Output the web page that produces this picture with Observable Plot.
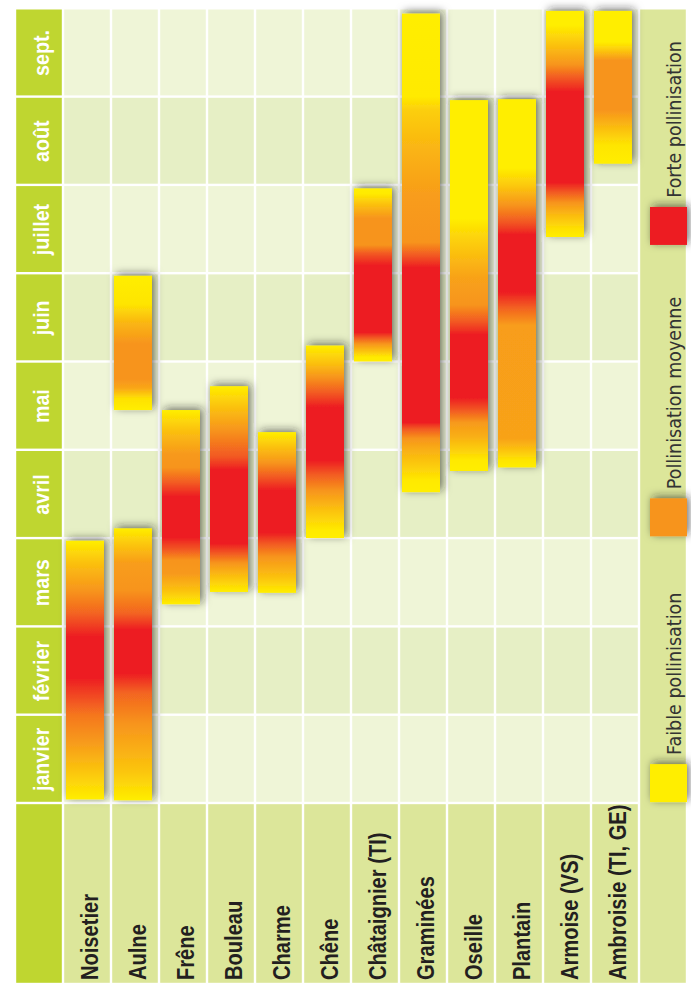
<!DOCTYPE html>
<html><head><meta charset="utf-8">
<script src="https://cdn.jsdelivr.net/npm/d3@7"></script>
<script src="https://cdn.jsdelivr.net/npm/@observablehq/plot@0.6"></script>
<style>body{margin:0;background:#fff}</style>
</head><body><div id="chart"></div>
<script>
// ---- data ----
const months = ["janvier","février","mars","avril","mai","juin","juillet","août","sept."];
const plants = ["Noisetier","Aulne","Frêne","Bouleau","Charme","Chêne","Châtaignier (TI)","Graminées","Oseille","Plantain","Armoise (VS)","Ambroisie (TI, GE)"];
const levelNames = ["Faible pollinisation","Pollinisation moyenne","Forte pollinisation"];
const levelColors = ["#ffee00","#f7941d","#ed1c24"];
// pollination periods, in months from 1 January (0) to end of September (9)
const periodPlant = ["Noisetier","Aulne","Aulne","Frêne","Bouleau","Charme","Chêne","Châtaignier (TI)","Graminées","Oseille","Plantain","Armoise (VS)","Ambroisie (TI, GE)"];
const periodStart = [0.04,0.03,4.45,2.25,2.39,2.38,3.0,5.0,3.52,3.76,3.8,6.41,7.24];
const periodEnd   = [2.97,3.11,5.97,4.45,4.72,4.2,5.18,6.96,8.94,7.96,7.97,8.97,8.97];
// intensity profile along each period: [month, level 0 = faible .. 2 = forte]
const periodProfile = [
  [[0.04,0],[0.35,0.45],[0.7,0.95],[1.0,1.25],[1.42,2],[1.88,2],[2.15,1.4],[2.4,1],[2.72,0.5],[2.97,0]],
  [[0.03,0],[0.35,0.45],[0.9,1],[1.25,1.4],[1.47,2],[1.96,2],[2.15,1.4],[2.41,1],[2.72,0.9],[2.95,0.4],[3.11,0]],
  [[4.45,0],[4.58,0.15],[4.7,0.8],[4.8,1],[5.2,1],[5.45,0.6],[5.65,0.1],[5.97,0]],
  [[2.25,0],[2.41,0.5],[2.6,0.95],[2.75,1],[2.87,1.5],[3.01,2],[3.47,2],[3.62,1.5],[3.8,1],[3.95,0.95],[4.22,0.5],[4.45,0]],
  [[2.39,0],[2.56,0.5],[2.72,1],[2.83,1.5],[2.94,2],[3.77,2],[3.92,1.5],[4.22,1],[4.48,0.5],[4.72,0]],
  [[2.38,0],[2.56,0.5],[2.79,1],[2.94,1.5],[3.06,2],[3.54,2],[3.69,1.5],[3.85,1],[4.03,0.5],[4.2,0]],
  [[3.0,0],[3.09,0.05],[3.32,0.5],[3.54,1],[3.73,1.5],[3.88,2],[4.48,2],[4.64,1.5],[4.82,1],[4.98,0.5],[5.18,0]],
  [[5.0,0],[5.05,0.05],[5.12,0.5],[5.2,1],[5.27,1.5],[5.33,2],[6.09,2],[6.22,1.5],[6.32,1],[6.62,1],[6.78,0.5],[6.9,0.05],[6.96,0]],
  [[3.52,0],[3.65,0.05],[3.8,0.35],[4.0,0.7],[4.13,1],[4.24,1.5],[4.31,2],[6.06,2],[6.2,1.5],[6.35,1],[6.9,0.9],[7.4,0.65],[7.85,0.35],[8.0,0.05],[8.94,0]],
  [[3.76,0],[3.88,0.05],[4.0,0.35],[4.15,0.7],[4.31,0.95],[4.45,1.5],[4.59,2],[5.3,2],[5.45,1.5],[5.64,1],[5.95,0.85],[6.2,0.55],[6.45,0.25],[6.62,0],[7.96,0]],
  [[3.8,0],[3.88,0.1],[4.02,0.55],[4.13,0.85],[5.41,0.9],[5.6,1.4],[5.79,2],[6.43,2],[6.58,1.5],[6.77,1],[7.0,0.4],[7.19,0],[7.97,0]],
  [[6.41,0],[6.5,0.15],[6.65,0.55],[6.8,1],[6.92,1.5],[7.03,2],[8.05,2],[8.21,1.5],[8.36,1],[8.58,0.5],[8.81,0],[8.97,0]],
  [[7.24,0],[7.45,0.1],[7.85,1],[8.41,1],[8.55,0.3],[8.62,0],[8.97,0]]
];

// ---- layout ----
const HDR = "__mois", LEG = "__legende";
const LABEL_BOTTOM = -2.05;       // bottom of the plant-name row (months units)
const LEGEND_POS = [0.01, 3.02, 6.32];
const SWATCH = 0.43;
const C_LIME = "#bfd630", C_LABEL = "#dce69a", C_LIGHT = "#eff5d7", C_DARK = "#e6efc5";
const BOLD_FONT = "'Liberation Sans',Arial,sans-serif";
const LEG_FONT = "'DejaVu Sans Condensed','Liberation Sans Narrow',sans-serif";
const NARROW = 0.875;   // horizontal condensation of the bold labels

const cells = [];
months.forEach((m, i) => {
  cells.push({col: HDR, m0: i, m1: i + 1, fill: C_LIME});
  plants.forEach(p => cells.push({col: p, m0: i, m1: i + 1, fill: i % 2 === 0 ? C_LIGHT : C_DARK}));
});
cells.push({col: HDR, m0: LABEL_BOTTOM, m1: 0, fill: C_LIME});
plants.forEach(p => cells.push({col: p, m0: LABEL_BOTTOM, m1: 0, fill: C_LABEL}));
cells.push({col: LEG, m0: LABEL_BOTTOM, m1: 9, fill: C_LABEL});

const periods = periodPlant.map((p, i) => ({i, plant: p, start: periodStart[i], end: periodEnd[i]}));

const svg = Plot.plot({
  width: 691, height: 983,
  marginTop: 0, marginRight: 0, marginBottom: 0, marginLeft: 0,
  style: {background: "white", overflow: "visible"},
  x: {type: "band", domain: [HDR, ...plants, LEG], range: [9.25, 691.75], padding: 0, axis: null},
  y: {type: "linear", domain: [LABEL_BOTTOM, 9], range: [984, 8.3], axis: null},
  color: {type: "identity"},
  marks: [
    Plot.barY(cells, {x: "col", y1: "m0", y2: "m1", fill: "fill", inset: 1.2}),
    Plot.barY(periods, {x: "plant", y1: "start", y2: "end", fill: d => `url(#grad-${d.i})`,
      insetLeft: 3, insetRight: 7, ariaDescription: "pollen-bars"}),
    Plot.text(months, {x: () => HDR, y: (d, i) => i + 0.5, text: d => d, rotate: -90,
      textAnchor: "middle", lineAnchor: "bottom", dx: 9.5, fill: "white", fontSize: 22.5,
      fontWeight: "bold", fontFamily: BOLD_FONT, ariaDescription: "month-labels"}),
    Plot.text(plants, {x: d => d, y: () => -2.0, text: d => d, rotate: -90,
      textAnchor: "start", lineAnchor: "bottom", dx: 10, fill: "#231f20", fontSize: 23,
      fontWeight: "bold", fontFamily: BOLD_FONT, ariaDescription: "plant-labels"}),
    Plot.barY(levelNames, {x: () => LEG, y1: (d, i) => LEGEND_POS[i], y2: (d, i) => LEGEND_POS[i] + SWATCH,
      fill: (d, i) => levelColors[i], insetLeft: 11, ariaDescription: "legend-swatches"}),
    Plot.text(levelNames, {x: () => LEG, y: (d, i) => LEGEND_POS[i] + SWATCH + 0.11, text: d => d,
      rotate: -90, textAnchor: "start", lineAnchor: "bottom", dx: 17, fill: "#333333",
      fontSize: 19.5, fontFamily: LEG_FONT, ariaDescription: "legend-labels"})
  ]
});

// gradients and shadow
const colorAt = d3.piecewise(d3.interpolateRgb, levelColors);
const defs = d3.select(svg).insert("defs", ":first-child");
periodProfile.forEach((prof, i) => {
  const s = periodStart[i], e = periodEnd[i];
  const g = defs.append("linearGradient").attr("id", `grad-${i}`)
    .attr("x1", 0).attr("y1", 0).attr("x2", 0).attr("y2", 1);
  prof.slice().sort((a, b) => b[0] - a[0]).forEach(([m, lv]) => {
    g.append("stop").attr("offset", Math.max(0, Math.min(1, (e - m) / (e - s))))
      .attr("stop-color", colorAt(lv / 2));
  });
});
const f = defs.append("filter").attr("id", "shadow")
  .attr("x", "-40%").attr("y", "-15%").attr("width", "180%").attr("height", "130%");
f.append("feDropShadow").attr("dx", 2.5).attr("dy", -2).attr("stdDeviation", 4)
  .attr("flood-color", "#222").attr("flood-opacity", 0.6);
d3.select(svg).select('g[aria-description="pollen-bars"]').attr("filter", "url(#shadow)");
d3.select(svg).select('g[aria-description="legend-swatches"]').attr("filter", "url(#shadow)");

document.getElementById("chart").appendChild(svg);

// condensed look for the bold labels
d3.select(svg).selectAll('g[aria-description="plant-labels"] text, g[aria-description="month-labels"] text')
  .each(function() {
    const L = this.getComputedTextLength();
    if (L > 0) d3.select(this).attr("textLength", L * NARROW).attr("lengthAdjust", "spacingAndGlyphs");
  });
</script>
</body></html>
